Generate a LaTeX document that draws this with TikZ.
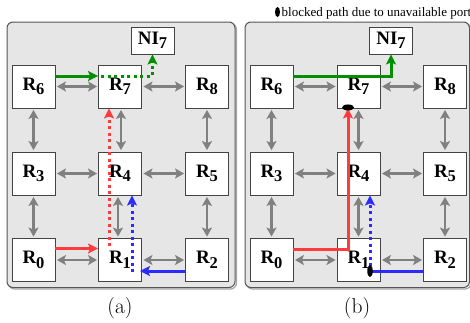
\documentclass[tikz,border=0pt]{standalone}
\usepackage{fontspec}
\newfontfamily\tnr{Liberation Serif}
\usetikzlibrary{arrows.meta,calc,shapes.geometric}
\definecolor{panelbg}{HTML}{E6E6E6}
\definecolor{panelbd}{HTML}{555555}
\definecolor{boxbd}{HTML}{444444}
\definecolor{garr}{HTML}{808080}
\definecolor{pred}{HTML}{FF3B3B}
\definecolor{pgreen}{HTML}{008F00}
\definecolor{pblue}{HTML}{2B2BFF}
\newcommand{\rlab}[1]{R\raisebox{-4.5pt}{\fontsize{16.5}{16.5}\selectfont #1}}
\tikzset{
  panel/.style={draw=panelbd, fill=panelbg, line width=1pt, rounded corners=6pt},
  pshadow/.style={draw=black!35, line width=1.2pt, rounded corners=6pt},
  rbox/.style={draw=boxbd, fill=white, line width=0.9pt, minimum width=43pt, minimum height=43pt, inner sep=0pt, font=\tnr\bfseries\fontsize{19}{19}\selectfont},
  nibox/.style={draw=boxbd, fill=white, line width=0.9pt, minimum width=43pt, minimum height=27pt, inner sep=0pt, font=\tnr\bfseries\fontsize{19}{19}\selectfont},
  garrow/.style={draw=garr, line width=2.6pt, {Stealth[length=9pt,width=10pt,inset=2pt]}-{Stealth[length=9pt,width=10pt,inset=2pt]}},
  carrow/.style={line width=3pt, -{Stealth[length=10pt,width=10pt,inset=2pt]}},
  cline/.style={line width=3pt},
  dotl/.style={dash pattern=on 3pt off 3.5pt},
  blk/.style={ellipse, fill=black, inner sep=0pt},
  captxt/.style={font=\fontsize{21.5}{21.5}\selectfont, anchor=base},
}
\begin{document}
\begin{tikzpicture}[x=1pt,y=-1pt]
\useasboundingbox (0,0) rectangle (470,322);
% panels
\draw[pshadow] (8.5,23.5) rectangle (236.5,289);
\draw[panel] (7,22) rectangle (235,287.5);
\draw[pshadow] (246.5,23.5) rectangle (471,289);
\draw[panel] (245,22) rectangle (469.5,287.5);

% ===== panel (a) =====
\node[rbox] (r6a) at (33.5,86.5) {\rlab{6}};
\node[rbox] (r7a) at (120,86.5) {\rlab{7}};
\node[rbox] (r8a) at (207,86.5) {\rlab{8}};
\node[rbox] (r3a) at (33.5,173.5) {\rlab{3}};
\node[rbox] (r4a) at (120,173.5) {\rlab{4}};
\node[rbox] (r5a) at (207,173.5) {\rlab{5}};
\node[rbox] (r0a) at (33.5,260) {\rlab{0}};
\node[rbox] (r1a) at (120,260) {\rlab{1}};
\node[rbox] (r2a) at (207,260) {\rlab{2}};
\node[nibox] (nia) at (152.5,40.5) {NI\raisebox{-4.5pt}{\fontsize{16.5}{16.5}\selectfont 7}};

\foreach \a/\b in {r6a/r7a,r7a/r8a,r3a/r4a,r4a/r5a,r0a/r1a,r1a/r2a}
  \draw[garrow,shorten <=1.5pt,shorten >=1pt] (\a.east) -- (\b.west);
\foreach \a/\b in {r6a/r3a,r8a/r5a,r3a/r0a,r5a/r2a}
  \draw[garrow,shorten <=1.5pt,shorten >=1.5pt] (\a.south) -- (\b.north);
\draw[garrow,shorten <=1.5pt,shorten >=1.5pt] ([xshift=1pt]r7a.south) -- ([xshift=1pt]r4a.north);
\draw[garrow,shorten <=1.5pt,shorten >=1.5pt] ([xshift=-2pt]r4a.south) -- ([xshift=-2pt]r1a.north);

% red
\draw[carrow,pred] ([yshift=11.5pt]r0a.east) -- ([yshift=11.5pt]r1a.west);
\draw[carrow,pred,dotl] ([xshift=-11pt,yshift=14pt]r1a.center) -- ([xshift=-11pt]r7a.south);
% green
\draw[carrow,pgreen] ([yshift=10.5pt]r6a.east) -- ([yshift=10.5pt]r7a.west);
\draw[carrow,pgreen,dotl] ([xshift=3pt,yshift=10.5pt]r7a.west) -| (nia.south);
% blue
\draw[carrow,pblue] ([yshift=-11pt]r2a.west) -- ([yshift=-11pt,xshift=-2pt]r1a.east);
\draw[carrow,pblue,dotl] ([xshift=12pt,yshift=-12pt]r1a.center) -- ([xshift=12pt]r4a.south);

\node[captxt] (capa) at (120,313) {(a)};

% ===== panel (b) =====
\node[rbox] (r6b) at (271.5,86.5) {\rlab{6}};
\node[rbox] (r7b) at (358.5,86.5) {\rlab{7}};
\node[rbox] (r8b) at (445,86.5) {\rlab{8}};
\node[rbox] (r3b) at (271.5,173.5) {\rlab{3}};
\node[rbox] (r4b) at (358.5,173.5) {\rlab{4}};
\node[rbox] (r5b) at (445,173.5) {\rlab{5}};
\node[rbox] (r0b) at (271.5,260) {\rlab{0}};
\node[rbox] (r1b) at (358.5,260) {\rlab{1}};
\node[rbox] (r2b) at (445,260) {\rlab{2}};
\node[nibox] (nib) at (391,40.5) {NI\raisebox{-4.5pt}{\fontsize{16.5}{16.5}\selectfont 7}};

\foreach \a/\b in {r6b/r7b,r7b/r8b,r3b/r4b,r4b/r5b,r0b/r1b,r1b/r2b}
  \draw[garrow,shorten <=1.5pt,shorten >=1pt] (\a.east) -- (\b.west);
\foreach \a/\b in {r6b/r3b,r8b/r5b,r3b/r0b,r5b/r2b,r7b/r4b,r4b/r1b}
  \draw[garrow,shorten <=1.5pt,shorten >=1.5pt] (\a.south) -- (\b.north);

% red
\draw[carrow,pred] ([yshift=11pt]r0b.east) -| ([xshift=-10.5pt]r7b.south);
% green
\draw[carrow,pgreen] ([yshift=10.5pt]r6b.east) -| (nib.south);
% blue
\draw[cline,pblue] ([yshift=-11pt]r2b.west) -- ([xshift=11.5pt,yshift=-11pt]r1b.center) coordinate (bk2);
\draw[carrow,pblue,dotl] ([xshift=11.5pt,yshift=-6pt]r1b.center) -- ([xshift=11.5pt]r4b.south);
% blocked markers
\node[blk, minimum width=12pt, minimum height=6pt] (blk1) at ([xshift=-10.5pt,yshift=1pt]r7b.south) {};
\node[blk, minimum width=5.5pt, minimum height=12pt] (blk2) at (bk2) {};

\node[captxt] (capb) at (357,313) {(b)};

% legend
\node[blk, minimum width=5pt, minimum height=10pt] (lgm) at (277.5,12) {};
\node[anchor=base west, inner sep=0pt, font=\tnr\fontsize{13}{13}\selectfont] (lgt) at (281.5,16) {blocked path due to unavailable port};
\end{tikzpicture}
\end{document}
